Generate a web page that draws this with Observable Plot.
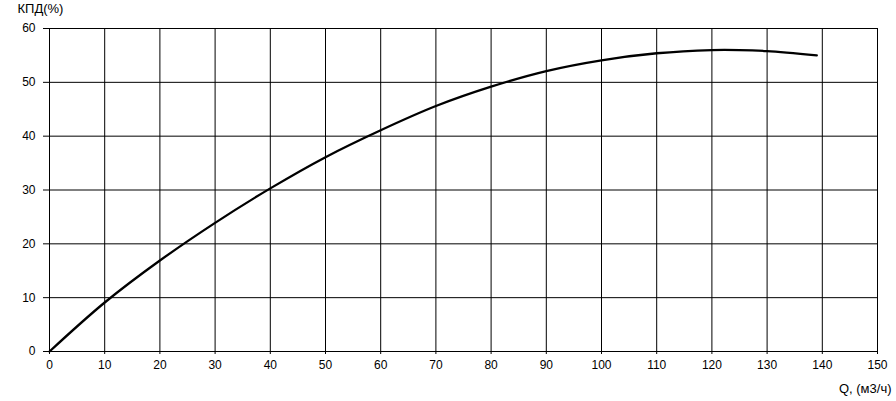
<!DOCTYPE html>
<html>
<head>
<meta charset="utf-8">
<script src="https://cdn.jsdelivr.net/npm/d3@7"></script>
<script src="https://cdn.jsdelivr.net/npm/@observablehq/plot@0.6"></script>
<style>
  html, body { margin: 0; padding: 0; background: #fff; }
  #chart svg { display: block; }
</style>
</head>
<body>
<div id="chart"></div>
<script>
const flowQ = [0, 10, 20, 30, 40, 50, 60, 70, 80, 90, 100, 110, 120, 125, 130, 139];
const efficiency = [0, 9.1, 16.9, 23.9, 30.3, 36.1, 41.1, 45.6, 49.2, 52.1, 54.1, 55.4, 56.0, 56.0, 55.8, 55.0];
const xTicks = d3.range(0, 151, 10);
const yTicks = d3.range(0, 61, 10);
const yLabel = "КПД(%)";
const xLabel = "Q, (м3/ч)";

const data = flowQ.map((q, i) => ({q, eta: efficiency[i]}));

const chart = Plot.plot({
  width: 896,
  height: 401,
  marginLeft: 49,
  marginRight: 19,
  marginTop: 28,
  marginBottom: 50,
  style: {fontFamily: "Liberation Sans, Arial, sans-serif", fontSize: "12px", color: "#000", background: "#fff"},
  x: {domain: [0, 150]},
  y: {domain: [0, 60]},
  marks: [
    Plot.gridX(xTicks, {stroke: "#000", strokeOpacity: 1, strokeWidth: 1}),
    Plot.gridY(yTicks, {stroke: "#000", strokeOpacity: 1, strokeWidth: 1}),
    Plot.axisX(xTicks, {tickSize: 3, tickPadding: 6, label: null, stroke: "#000", fontSize: 12}),
    Plot.axisY(yTicks, {tickSize: 6, tickPadding: 8, label: null, stroke: "#000", fontSize: 12}),
    Plot.line(data, {x: "q", y: "eta", stroke: "#000", strokeWidth: 2.3, curve: "catmull-rom"}),
    Plot.text([yLabel], {frameAnchor: "top-left", dx: -32, dy: -25, lineAnchor: "top", textAnchor: "start", fontSize: 13, fill: "#000"}),
    Plot.text([xLabel], {frameAnchor: "bottom-right", dx: 14, dy: 41, textAnchor: "end", fontSize: 13, fill: "#000"})
  ]
});
document.getElementById("chart").appendChild(chart);
</script>
</body>
</html>
